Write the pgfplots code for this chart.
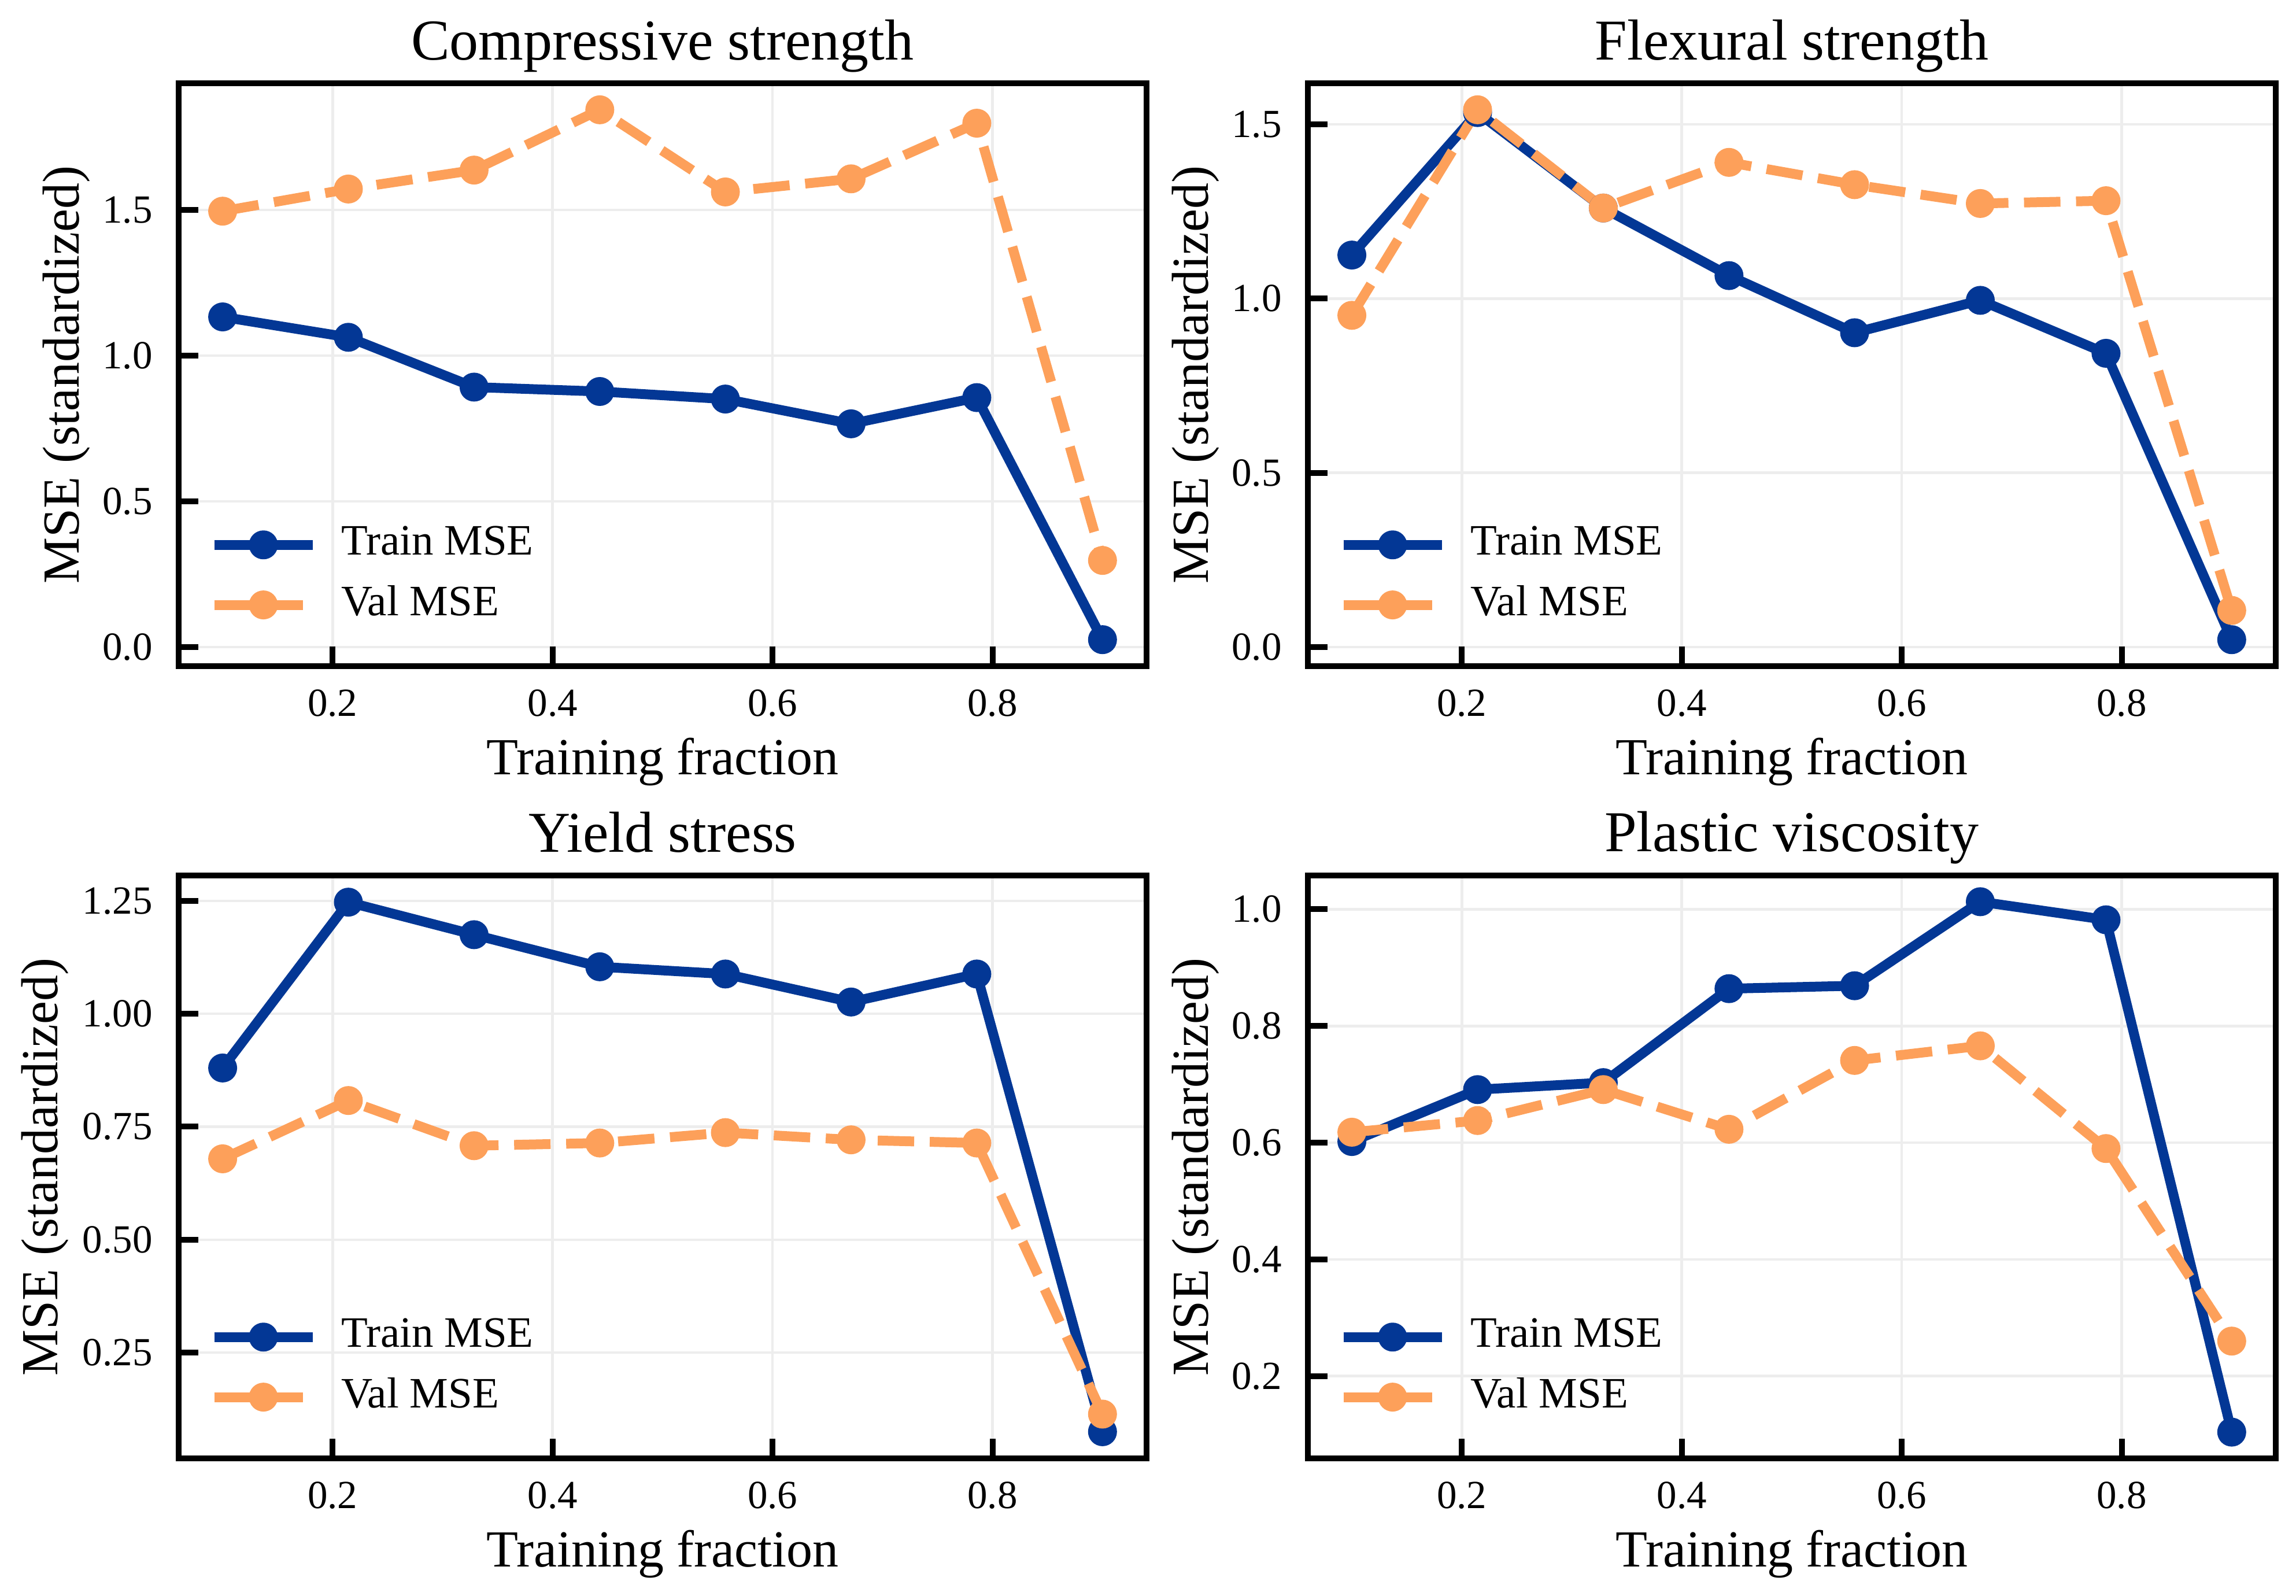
\documentclass[border=0pt]{standalone}
\usepackage{fontspec}
\setmainfont{Liberation Serif}
\usepackage{pgfplots}
\pgfplotsset{compat=1.18}
\definecolor{trainblue}{HTML}{033795}
\definecolor{valorange}{HTML}{FDA05A}
\pgfplotsset{
  panel/.style={
    scale only axis, width=167.4pt, height=100.8pt,
    xmin=0.06, xmax=0.94,
    xtick={0.2,0.4,0.6,0.8},
    /pgf/number format/assume math mode=true,
    xticklabel style={yshift=-0.5pt, /pgf/number format/.cd, fixed, fixed zerofill, precision=1},
    tick pos=left,
    tick align=inside,
    major tick length=3.4pt,
    tick style={black, line width=1pt},
    axis line style={line width=1pt},
    grid=major,
    grid style={line width=0.45pt, color=black!7},
    ticklabel style={font=\fontsize{6.9}{8.5}\selectfont},
    yticklabel style={xshift=-1.0pt},
    label style={font=\fontsize{9}{11}\selectfont},
    title style={font=\fontsize{10}{12}\selectfont, at={(axis description cs:0.5,1)}, anchor=base, yshift=-1.9pt},
    xlabel style={at={(axis description cs:0.5,-0.1637)}, anchor=center},
    ylabel style={at={(axis description cs:-0.1159,0.5)}, anchor=center},
    xlabel={Training fraction},
    ylabel={MSE (standardized)},
    legend style={draw=none, fill=none, inner xsep=0pt, inner ysep=0pt,
      at={(axis description cs:0.0305,0.050)}, anchor=south west,
      font=\fontsize{7.5}{9}\selectfont, row sep=-0.2pt, column sep=2.1pt},
    legend cell align=left,
    legend image code/.code={\draw[mark repeat=2,mark phase=2,##1] plot coordinates {(0pt,0pt)(8.5pt,0pt)(17pt,0pt)};},
  },
  train/.style={color=trainblue, line width=1.7pt, line join=round, mark=*, mark size=2.35pt,
    mark options={solid, line width=0.3pt, fill=trainblue}},
  val/.style={color=valorange, line width=1.7pt, line join=round, dash pattern=on 6.3pt off 2.7pt,
    mark=*, mark size=2.35pt, mark options={solid, line width=0.3pt, fill=valorange}},
}
\begin{document}
\begin{tikzpicture}
\useasboundingbox (0,0) rectangle (397.1pt,-276pt);
% Top left
\begin{axis}[panel, at={(30.9pt,-115.2pt)}, anchor=south west,
  title={Compressive strength},
  ymin=-0.066, ymax=1.935, ytick={0,0.5,1.0,1.5},
  yticklabel style={/pgf/number format/.cd, fixed, fixed zerofill, precision=1}]
\addplot[train] coordinates {(0.1,1.133)(0.2143,1.063)(0.3286,0.892)(0.4429,0.877)(0.5571,0.851)(0.6714,0.766)(0.7857,0.856)(0.9,0.025)};
\addlegendentry{Train MSE}
\addplot[val] coordinates {(0.1,1.496)(0.2143,1.572)(0.3286,1.637)(0.4429,1.844)(0.5571,1.562)(0.6714,1.607)(0.7857,1.798)(0.9,0.297)};
\addlegendentry{Val MSE}
\end{axis}
% Top right
\begin{axis}[panel, at={(226.2pt,-115.2pt)}, anchor=south west,
  title={Flexural strength},
  ymin=-0.055, ymax=1.618, ytick={0,0.5,1.0,1.5},
  yticklabel style={/pgf/number format/.cd, fixed, fixed zerofill, precision=1}]
\addplot[train] coordinates {(0.1,1.125)(0.2143,1.534)(0.3286,1.260)(0.4429,1.066)(0.5571,0.902)(0.6714,0.995)(0.7857,0.843)(0.9,0.021)};
\addlegendentry{Train MSE}
\addplot[val] coordinates {(0.1,0.952)(0.2143,1.542)(0.3286,1.260)(0.4429,1.391)(0.5571,1.327)(0.6714,1.273)(0.7857,1.281)(0.9,0.105)};
\addlegendentry{Val MSE}
\end{axis}
% Bottom left
\begin{axis}[panel, at={(30.9pt,-252.2pt)}, anchor=south west,
  title={Yield stress},
  ylabel style={at={(axis description cs:-0.138,0.5)}},
  ymin=0.016, ymax=1.306, ytick={0.25,0.5,0.75,1.0,1.25},
  yticklabel style={/pgf/number format/.cd, fixed, fixed zerofill, precision=2}]
\addplot[train] coordinates {(0.1,0.880)(0.2143,1.247)(0.3286,1.175)(0.4429,1.104)(0.5571,1.088)(0.6714,1.026)(0.7857,1.088)(0.9,0.075)};
\addlegendentry{Train MSE}
\addplot[val] coordinates {(0.1,0.679)(0.2143,0.808)(0.3286,0.708)(0.4429,0.714)(0.5571,0.737)(0.6714,0.721)(0.7857,0.714)(0.9,0.114)};
\addlegendentry{Val MSE}
\end{axis}
% Bottom right
\begin{axis}[panel, at={(226.2pt,-252.2pt)}, anchor=south west,
  title={Plastic viscosity},
  ymin=0.059, ymax=1.058, ytick={0.2,0.4,0.6,0.8,1.0},
  yticklabel style={/pgf/number format/.cd, fixed, fixed zerofill, precision=1}]
\addplot[train] coordinates {(0.1,0.602)(0.2143,0.691)(0.3286,0.703)(0.4429,0.864)(0.5571,0.869)(0.6714,1.013)(0.7857,0.982)(0.9,0.104)};
\addlegendentry{Train MSE}
\addplot[val] coordinates {(0.1,0.618)(0.2143,0.638)(0.3286,0.691)(0.4429,0.623)(0.5571,0.741)(0.6714,0.766)(0.7857,0.590)(0.9,0.260)};
\addlegendentry{Val MSE}
\end{axis}
\end{tikzpicture}
\end{document}
